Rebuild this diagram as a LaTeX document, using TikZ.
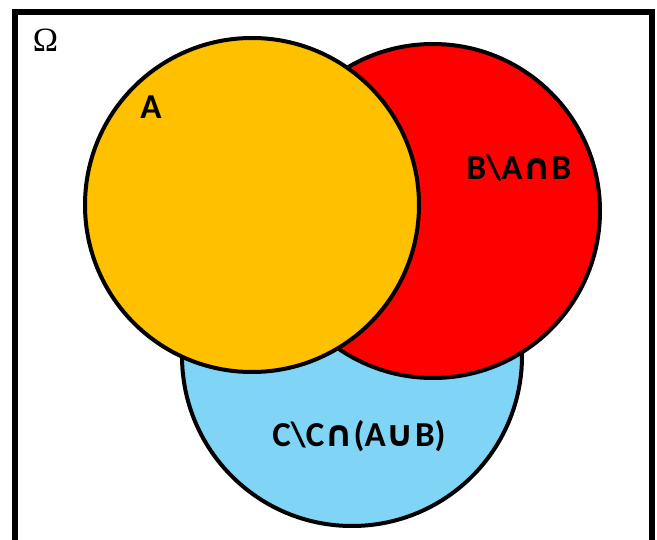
\documentclass[tikz,border=0pt]{standalone}
\usepackage{fontspec}
\setmainfont{Carlito}
\newfontfamily\symfont{DejaVu Sans}
\newfontfamily\omfont{Liberation Serif}
\newcommand{\capop}{{\symfont\bfseries\fontsize{36}{38}\selectfont ∩}}
\newcommand{\cupop}{{\symfont\bfseries\fontsize{36}{38}\selectfont ∪}}
\begin{document}
\begin{tikzpicture}[x=1pt,y=-1pt,
  setc/.style={draw=black, line width=4pt},
  lbl/.style={font=\fontsize{35}{37}\selectfont\bfseries, inner sep=0pt}]
\useasboundingbox (0,0) rectangle (657,540);
\draw[line width=6pt] (15,560) -- (15,12) -- (651.5,12) -- (651.5,560);
\node[inner sep=0pt, font=\omfont\fontsize{34}{36}\selectfont] (omega) at (45.5,40) {Ω};
\path[setc, fill={rgb,255:red,128;green,212;blue,245}] (352,356) circle[radius=170];
\path[setc, fill=red] (433,211) circle[radius=167];
\path[setc, fill={rgb,255:red,255;green,192;blue,0}] (252,205) circle[radius=167];
\node[lbl] (la) at (151,107) {A};
\node[lbl] (lb) at (519,168) {B\textbackslash A\capop B};
\node[lbl] (lc) at (359,436) {C\textbackslash C\capop(A\cupop B)};
\end{tikzpicture}
\end{document}
